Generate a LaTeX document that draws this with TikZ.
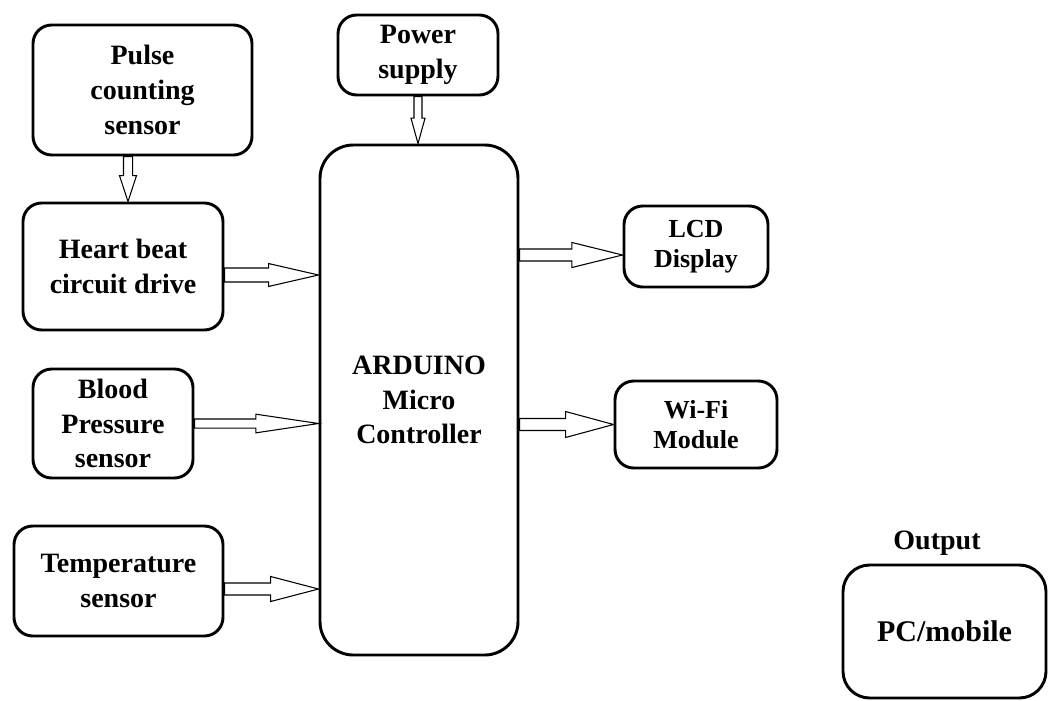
\documentclass[tikz,border=0pt]{standalone}
\usepackage{fontspec}
\setmainfont{Liberation Serif}
\usetikzlibrary{calc}
\tikzset{
  box/.style={draw, line width=2.2pt, rounded corners=14pt, align=center, inner sep=0pt,
    font=\bfseries\fontsize{21}{26}\selectfont},
  smallbox/.style={box, font=\bfseries\fontsize{19.5}{22.5}\selectfont},
  lbl/.style={font=\bfseries\fontsize{21}{26}\selectfont, inner sep=0pt},
  arr/.style={draw, fill=white, line width=0.8pt, line join=miter},
  blockarr/.style n args={3}{to path={
    let \p1=(\tikztostart), \p2=(\tikztotarget),
        \n1={atan2(\y2-\y1,\x2-\x1)}, \n2={veclen(\x2-\x1,\y2-\y1)} in
    {[shift={(\p1)}, rotate=\n1, x=1pt, y=1pt]
     (0,-#1) -- ({\n2-#3},-#1) -- ({\n2-#3},-#2) -- (\n2,0) -- ({\n2-#3},#2) -- ({\n2-#3},#1) -- (0,#1) -- cycle}
  }},
}
\begin{document}
\begin{tikzpicture}[x=0.75pt, y=-0.75pt]
\useasboundingbox (0,0) rectangle (1048,700);

% nodes
\node[box, minimum width=164.25pt, minimum height=97.5pt] (pulse) at (142.5,90) {Pulse\\counting\\sensor};
\node[box, minimum width=150pt, minimum height=95.25pt] (heart) at (123,266.5) {Heart beat\\circuit drive};
\node[box, minimum width=120pt, minimum height=81.75pt] (blood) at (113,423.5) {Blood\\Pressure\\sensor};
\node[box, minimum width=156.75pt, minimum height=82.5pt] (temp) at (118.5,581) {Temperature\\sensor};
\node[box, minimum width=120pt, minimum height=60pt] (power) at (418,55) {Power\\supply};
\node[box, rounded corners=25pt, minimum width=148.5pt, minimum height=382.5pt] (ard) at (419,400) {ARDUINO\\Micro\\Controller};
\node[smallbox, minimum width=108pt, minimum height=60.75pt] (lcd) at (696,246.5) {LCD\\Display};
\node[smallbox, minimum width=121.5pt, minimum height=65.25pt] (wifi) at (696,424.5) {Wi-Fi\\Module};
\node[lbl] (outlbl) at (937,543) {Output};
\node[box, rounded corners=20pt, minimum width=152.25pt, minimum height=99.75pt,
  font=\bfseries\fontsize{22.5}{26}\selectfont] (pc) at (944.5,631.5) {PC/mobile};

% connector anchors
\coordinate (s1) at ($(pulse.south)+(-14.5,0)$);
\coordinate (s3) at ($(heart.east)+(0,8.5)$);
\coordinate (s5) at ($(temp.east)+(0,8)$);
\coordinate (s6) at ($(lcd.west)+(0,8.5)$);

% block arrows
\draw[arr] (s1) to[blockarr={3.4}{6.4}{19.5}] (heart.north -| s1);
\draw[arr] (power.south) to[blockarr={3}{5.25}{19}] (ard.north -| power.south);
\draw[arr] (s3) to[blockarr={5.25}{8.6}{37.5}] (ard.west |- s3);
\draw[arr] (blood.east) to[blockarr={3.4}{7}{47}] (ard.west |- blood.east);
\draw[arr] (s5) to[blockarr={4.5}{9.4}{36}] (ard.west |- s5);
\draw[arr] (ard.east |- s6) to[blockarr={4.5}{9.4}{38}] (s6);
\draw[arr] (ard.east |- wifi.west) to[blockarr={4.5}{9.75}{36}] (wifi.west);
\end{tikzpicture}
\end{document}
